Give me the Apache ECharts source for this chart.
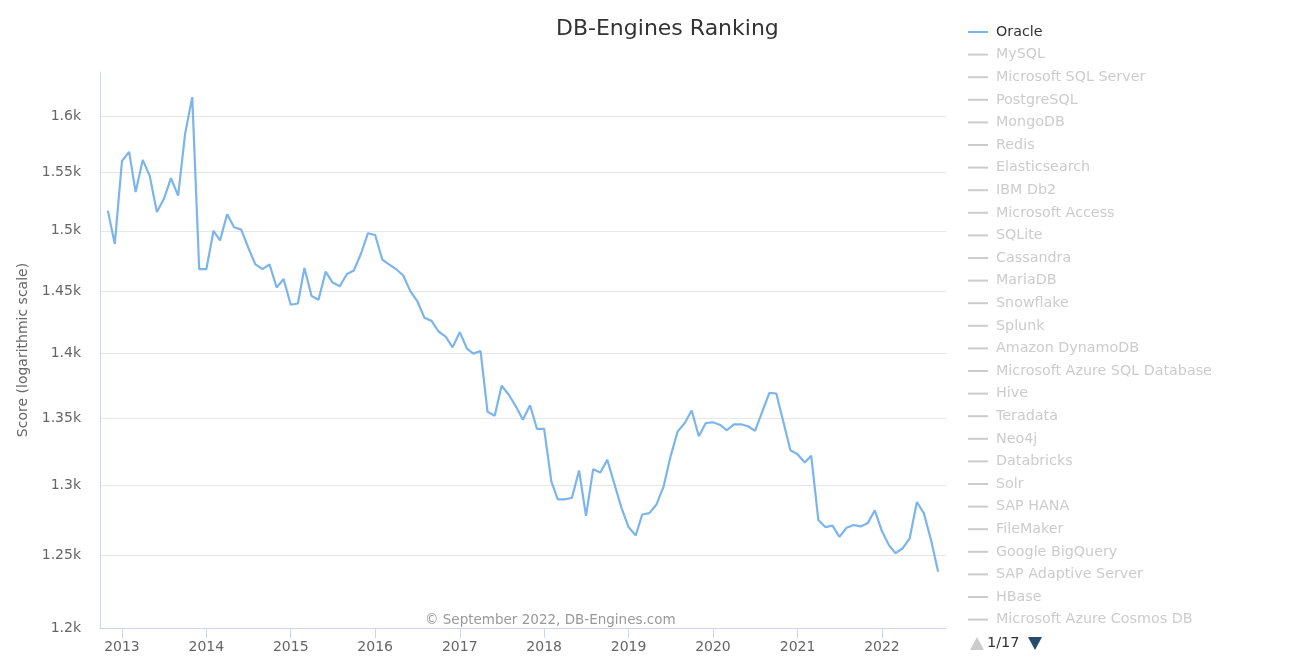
<!DOCTYPE html>
<html>
<head>
<meta charset="utf-8">
<script src="https://cdn.jsdelivr.net/npm/echarts@6/dist/echarts.min.js"></script>
<style>
html,body{margin:0;padding:0;background:#fff;}
#chart{width:1291px;height:667px;}
</style>
</head>
<body>
<div id="chart"></div>
<script>
// ---- data (monthly Oracle score, first of month) ----
const startYear = 2012;
const startMonth = 11; // November 2012
const oracle2012 = [1517, 1489];
const oracle2013 = [1560, 1568, 1533, 1561, 1547, 1516, 1527, 1545, 1530, 1584, 1617, 1468];
const oracle2014 = [1468, 1500, 1492, 1514, 1503, 1501, 1486, 1472, 1468, 1472, 1453, 1460];
const oracle2015 = [1439, 1440, 1469, 1446, 1443, 1466, 1457, 1454, 1464, 1467, 1481, 1498];
const oracle2016 = [1496.5, 1476, 1472, 1468, 1463, 1450, 1442, 1428.5, 1426, 1417.5, 1413.5, 1405];
const oracle2017 = [1417, 1404, 1400, 1402, 1355, 1352, 1375, 1368, 1359, 1349, 1360, 1342];
const oracle2018 = [1342, 1303, 1290, 1290, 1291, 1311, 1278, 1312, 1309.5, 1319, 1301, 1284];
const oracle2019 = [1270, 1264, 1279, 1280, 1286, 1299, 1321, 1340, 1346.5, 1356, 1336.5, 1346.5];
const oracle2020 = [1347, 1345, 1341, 1345.5, 1345.5, 1344, 1340.5, 1355, 1369.5, 1369, 1347, 1326];
const oracle2021 = [1323, 1317, 1322, 1275, 1270, 1271, 1263, 1269.5, 1271.5, 1270.5, 1273, 1282];
const oracle2022 = [1267, 1257, 1251.5, 1255, 1262, 1288, 1280, 1261, 1238.5];

const legendNames = ['Oracle', 'MySQL', 'Microsoft SQL Server', 'PostgreSQL', 'MongoDB', 'Redis',
  'Elasticsearch', 'IBM Db2', 'Microsoft Access', 'SQLite', 'Cassandra', 'MariaDB', 'Snowflake',
  'Splunk', 'Amazon DynamoDB', 'Microsoft Azure SQL Database', 'Hive', 'Teradata', 'Neo4j',
  'Databricks', 'Solr', 'SAP HANA', 'FileMaker', 'Google BigQuery', 'SAP Adaptive Server', 'HBase',
  'Microsoft Azure Cosmos DB'];
const legendPageText = '1/17';

const yTicks = [1200, 1250, 1300, 1350, 1400, 1450, 1500, 1550, 1600];
const xTickYears = [2013, 2014, 2015, 2016, 2017, 2018, 2019, 2020, 2021, 2022];

// ---- build ----
const oracleValues = [].concat(oracle2012, oracle2013, oracle2014, oracle2015, oracle2016,
  oracle2017, oracle2018, oracle2019, oracle2020, oracle2021, oracle2022);
const oracleData = oracleValues.map(function (v, i) {
  const m = startMonth - 1 + i;
  return [Date.UTC(startYear + Math.floor(m / 12), m % 12, 1), v];
});
const xTicks = xTickYears.map(function (y) { return Date.UTC(y, 0, 1); });

const selected = {};
legendNames.forEach(function (n) { selected[n] = (n === 'Oracle'); });

const series = legendNames.map(function (n) {
  if (n === 'Oracle') {
    return {
      name: n, type: 'line', data: oracleData, showSymbol: false, symbol: 'none',
      lineStyle: { color: '#7cb5ec', width: 2.2 }, itemStyle: { color: '#7cb5ec' },
      emphasis: { disabled: true }
    };
  }
  return { name: n, type: 'line', data: [], showSymbol: false };
});

const FONT = 'DejaVu Sans';
const chart = echarts.init(document.getElementById('chart'), null, { renderer: 'canvas' });
chart.setOption({
  animation: false,
  textStyle: { fontFamily: FONT },
  title: {
    text: 'DB-Engines Ranking',
    left: 556, top: 18, padding: 0,
    textStyle: { fontFamily: FONT, fontSize: 22, fontWeight: 'normal', color: '#333' }
  },
  graphic: [
    {
      type: 'text', left: 425, top: 613,
      style: { text: '© September 2022, DB-Engines.com', fill: '#999', font: '13.5px "DejaVu Sans"' }
    },
    {
      type: 'polygon', shape: { points: [[970, 650], [984, 650], [977, 637]] },
      style: { fill: '#cccccc' }
    },
    {
      type: 'text', left: 987, top: 636,
      style: { text: legendPageText, fill: '#333', font: '14.5px "DejaVu Sans"' }
    },
    {
      type: 'polygon', shape: { points: [[1028, 637], [1042, 637], [1035, 650]] },
      style: { fill: '#274b6d' }
    }
  ],
  legend: {
    orient: 'vertical', left: 968, top: 25, padding: 0,
    icon: 'rect', itemWidth: 20, itemHeight: 2, itemGap: 8.6,
    inactiveColor: '#ccc', selected: selected, data: legendNames,
    textStyle: { fontFamily: FONT, fontSize: 14.3, color: '#333', padding: [0, 0, 0, 3] }
  },
  grid: { left: 100, right: 345, top: 72, bottom: 39, containLabel: false },
  xAxis: {
    type: 'value',
    min: Date.UTC(2012, 8, 28), max: Date.UTC(2022, 9, 5),
    axisLine: { show: true, lineStyle: { color: '#ccd6eb', width: 1 } },
    axisTick: { show: true, length: 10, lineStyle: { color: '#ccd6eb' }, customValues: xTicks },
    axisLabel: {
      customValues: xTicks, color: '#666', fontSize: 14, fontFamily: FONT, margin: 12,
      formatter: function (v) { return String(new Date(v).getUTCFullYear()); }
    },
    splitLine: { show: false }, minorTick: { show: false }
  },
  yAxis: {
    type: 'log', logBase: 10, min: 1200, max: 1640,
    name: 'Score (logarithmic scale)', nameLocation: 'middle', nameGap: 62,
    nameTextStyle: { color: '#666', fontSize: 14, fontFamily: FONT },
    axisLine: { show: true, lineStyle: { color: '#ccd6eb', width: 1 } },
    axisTick: { show: false, customValues: yTicks },
    axisLabel: {
      customValues: yTicks, color: '#666', fontSize: 14, fontFamily: FONT, margin: 19,
      formatter: function (v) { return (Math.round(v) / 1000) + 'k'; }
    },
    splitLine: { show: true, lineStyle: { color: '#e6e6e6', width: 1 } }
  },
  series: series
});
</script>
</body>
</html>
